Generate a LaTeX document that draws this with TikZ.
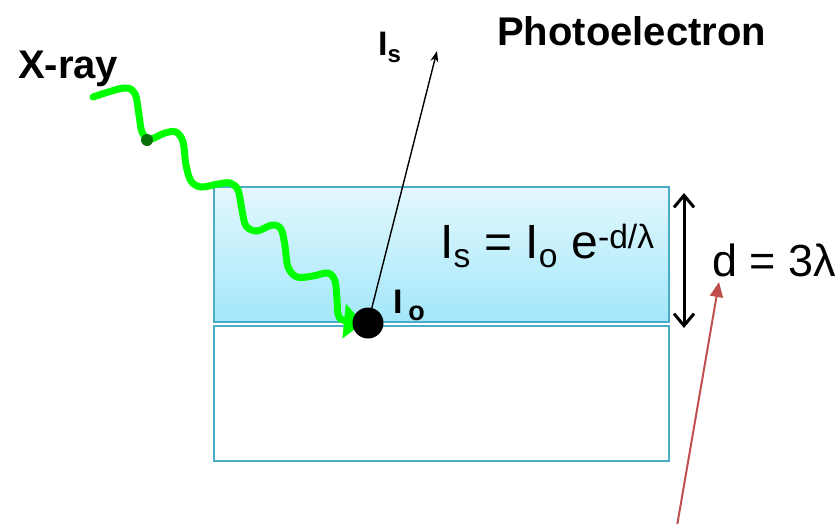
\documentclass[tikz,border=0pt]{standalone}
\usepackage{fontspec}
\setmainfont{Liberation Sans}
\usepackage{tikz}
\usetikzlibrary{arrows.meta,positioning}
\definecolor{filmline}{HTML}{4BACC6}
\definecolor{filmtop}{HTML}{E3F8FD}
\definecolor{filmbot}{HTML}{A3E7FA}
\definecolor{raygreen}{HTML}{00FF00}
\definecolor{kinkgreen}{HTML}{0A6E0A}
\definecolor{pointred}{HTML}{C0504D}
\newcommand{\lowsub}[3]{\raisebox{-#1}{\fontsize{#2}{#2}\selectfont #3}}
\tikzset{
  layerbox/.style={
    draw=filmline,
    line width=2.5pt,
    minimum width=455pt,
    minimum height=135pt,
    inner sep=0pt
  },
  film/.style={
    layerbox,
    top color=filmtop,
    bottom color=filmbot
  },
  substrate/.style={
    layerbox,
    fill=white
  },
  xray/.style={
    draw=raygreen,
    line width=7pt,
    line cap=round,
    -{Triangle[length=19pt,width=34pt]}
  },
  eline/.style={
    -{Stealth[length=11pt,width=8pt]},
    line width=1.4pt
  },
  thick arrow/.style={
    {Straight Barb[length=12pt,width=20pt]}-{Straight Barb[length=12pt,width=20pt]},
    line width=3pt
  },
  red arrow/.style={
    -{Triangle[length=15pt,width=13pt]},
    draw=pointred,
    line width=2pt
  },
  boldlabel/.style={
    inner sep=0pt,
    font=\fontsize{40}{44}\selectfont\bfseries
  },
  eqlabel/.style={
    inner sep=0pt,
    font=\fontsize{48}{52}\selectfont
  }
}

\begin{document}
\begin{tikzpicture}[x=1pt,y=-1pt]
\useasboundingbox (0,0) rectangle (838,523);
\coordinate (xstart) at (93,97);
\coordinate (hit) at (368,323);
\coordinate (etip) at (437,51);
\coordinate (dtop) at (684,193);
\coordinate (dbot) at (684,328);
\coordinate (rstart) at (677,526);
\coordinate (rtip) at (719,282);
% layers
\node[film] (film) at (441.5,254.5) {};
\node[substrate, below=1.5pt of film] (substrate) {};
% incoming x-ray
\draw[xray] plot[smooth, tension=0.55] coordinates {
  (xstart) (124,88) (135,94) (139,115) (142,132) (150,139) (165,133)
  (176,132) (183,142) (186,165) (191,181) (201,187) (218,184) (230,183)
  (238,190) (242,210) (246,226) (257,231) (272,225) (281,229) (285,246)
  (288,267) (297,277) (313,276) (328,273) (335,281) (337,300) (338,314)
  (343,320) ([xshift=-5pt]hit)};
\node[circle, fill=kinkgreen, minimum size=12pt, inner sep=0pt] (kink) at (147,140) {};
\node[circle, fill=black, minimum size=31pt, inner sep=0pt] (dot) at (hit) {};
% photoelectron
\draw[eline] (dot) -- (etip);
\node[boldlabel, anchor=base west] (xlabel) at (18,78) {X-ray};
\node[boldlabel, anchor=base west] (plabel) at (497,45) {Photoelectron};
\node[boldlabel, anchor=base west, font=\fontsize{34}{38}\selectfont\bfseries] (islabel) at (378,55) {I\lowsub{7pt}{24}{s}};
\node[boldlabel, anchor=base west, font=\fontsize{34}{38}\selectfont\bfseries] (iolabel) at (393,313) {I\,\lowsub{7pt}{27}{o}};
\node[eqlabel, anchor=base west] (eq) at (440,258) {I\textsubscript{s} = I\textsubscript{o} e\textsuperscript{-d/λ}};
% thickness
\draw[thick arrow] (dtop) -- (dbot);
\node[eqlabel, anchor=base west, font=\fontsize{45}{48}\selectfont] (dlabel) at (712,276) {d = 3λ};
\draw[red arrow] (rstart) -- (rtip);
\end{tikzpicture}
\end{document}
